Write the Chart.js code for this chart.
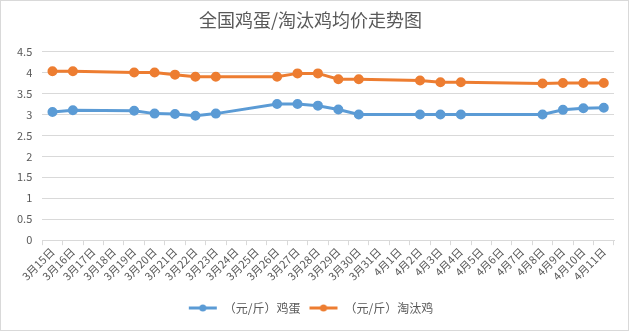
<!DOCTYPE html>
<html>
<head>
<meta charset="utf-8">
<script src="https://cdn.jsdelivr.net/npm/chart.js@4"></script>
<style>
  body { margin: 0; background: #fff; }
  #wrap { width: 629px; height: 331px; box-sizing: border-box; border: 1px solid #d9d9d9; }
</style>
</head>
<body>
<div id="wrap"><canvas id="chart" width="627" height="329"></canvas></div>
<script>
const dates = [
  "3月15日", "3月16日", "3月17日", "3月18日", "3月19日", "3月20日", "3月21日",
  "3月22日", "3月23日", "3月24日", "3月25日", "3月26日", "3月27日", "3月28日",
  "3月29日", "3月30日", "3月31日", "4月1日", "4月2日", "4月3日", "4月4日",
  "4月5日", "4月6日", "4月7日", "4月8日", "4月9日", "4月10日", "4月11日"
];
// null = no quote that day, line spans over it
const eggPrice = [
  3.06, 3.10, null, null, 3.09, 3.02, 3.01,
  2.97, 3.02, null, null, 3.25, 3.25, 3.21,
  3.12, 3.00, null, null, 3.00, 3.00, 3.00,
  null, null, null, 3.00, 3.11, 3.15, 3.16
];
const henPrice = [
  4.03, 4.03, null, null, 4.00, 4.00, 3.95,
  3.90, 3.90, null, null, 3.90, 3.98, 3.98,
  3.84, 3.84, null, null, 3.81, 3.77, 3.77,
  null, null, null, 3.74, 3.75, 3.75, 3.75
];
const seriesNames = ["（元/斤）鸡蛋", "（元/斤）淘汰鸡"];
const seriesColors = ["#5B9BD5", "#ED7D31"];

function legendMarker(color) {
  const c = document.createElement("canvas");
  c.width = 30;
  c.height = 10;
  const g = c.getContext("2d");
  g.strokeStyle = color;
  g.lineWidth = 3;
  g.beginPath();
  g.moveTo(1, 5);
  g.lineTo(29, 5);
  g.stroke();
  g.fillStyle = color;
  g.beginPath();
  g.arc(15, 5, 3.5, 0, Math.PI * 2);
  g.fill();
  return c;
}

const markers = seriesColors.map(legendMarker);
const font = "'Noto Sans CJK SC', 'Noto Sans', sans-serif";

new Chart(document.getElementById("chart"), {
  type: "line",
  data: {
    labels: dates,
    datasets: [eggPrice, henPrice].map((d, i) => ({
      label: seriesNames[i],
      data: d,
      borderColor: seriesColors[i],
      backgroundColor: seriesColors[i],
      borderWidth: 3,
      pointRadius: 3.5,
      pointHoverRadius: 4.5,
      spanGaps: true,
      tension: 0,
    })),
  },
  options: {
    responsive: false,
    animation: false,
    layout: { padding: { left: 6, right: 14, top: 0, bottom: 6 } },
    plugins: {
      title: {
        display: true,
        text: "全国鸡蛋/淘汰鸡均价走势图",
        color: "#595959",
        font: { family: font, size: 18, weight: "normal" },
        padding: { top: 8, bottom: 21 },
      },
      legend: {
        position: "bottom",
        labels: {
          color: "#595959",
          font: { family: font, size: 12 },
          usePointStyle: true,
          pointStyleWidth: 30,
          boxHeight: 10,
          padding: 8,
          generateLabels: (chart) =>
            chart.data.datasets.map((ds, i) => ({
              text: ds.label,
              pointStyle: markers[i],
              fillStyle: ds.borderColor,
              strokeStyle: ds.borderColor,
              fontColor: "#595959",
              lineWidth: 0,
              datasetIndex: i,
            })),
        },
      },
      tooltip: { enabled: true },
    },
    scales: {
      x: {
        offset: true,
        grid: {
          offset: true,
          drawOnChartArea: false,
          drawTicks: true,
          tickLength: 5,
          color: "#d9d9d9",
        },
        border: { color: "#d9d9d9" },
        ticks: {
          color: "#595959",
          font: { family: font, size: 11 },
          maxRotation: 45,
          minRotation: 45,
          autoSkip: false,
          padding: 0,
        },
        // leave a gap between the date labels and the legend
        afterFit: (scale) => { scale.height += 11; },
      },
      y: {
        min: 0,
        max: 4.5,
        grid: { color: "#d9d9d9", drawTicks: false },
        border: { display: false },
        ticks: {
          stepSize: 0.5,
          color: "#595959",
          font: { family: font, size: 11 },
          padding: 10,
          callback: (v) => String(Math.round(v * 10) / 10),
        },
      },
    },
  },
});
</script>
</body>
</html>
